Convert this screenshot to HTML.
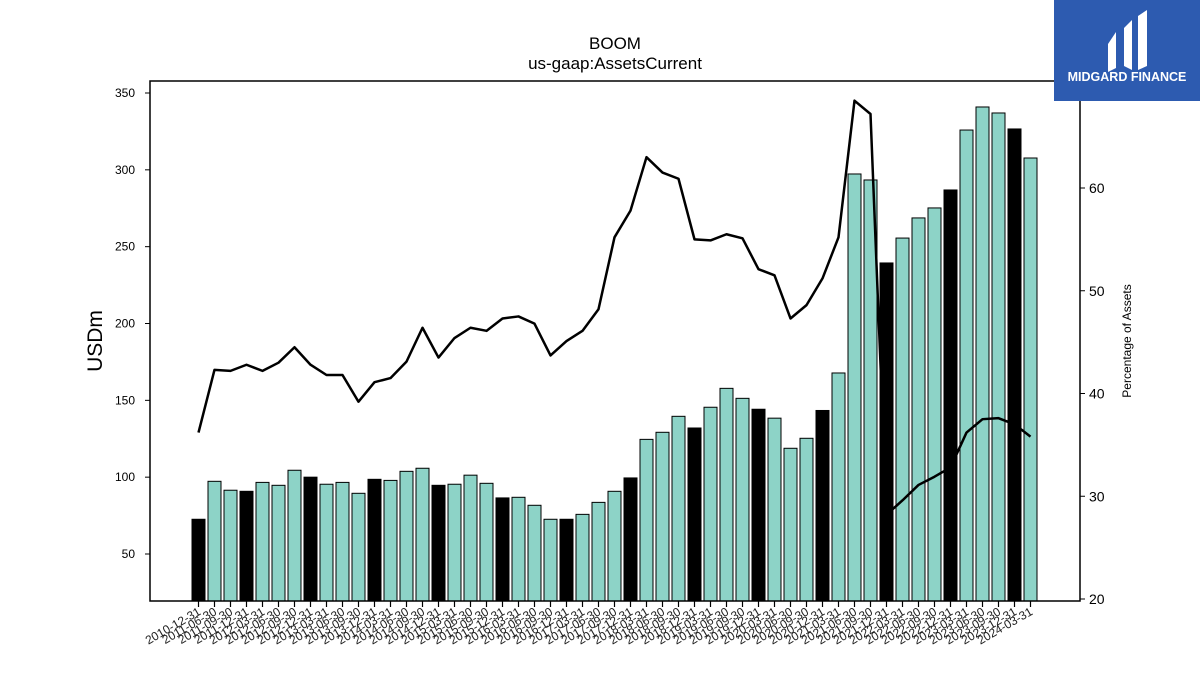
<!DOCTYPE html>
<html><head><meta charset="utf-8">
<style>
body{margin:0;background:#fff;width:1200px;height:675px;overflow:hidden;font-family:"Liberation Sans","DejaVu Sans",sans-serif;}
svg{position:absolute;left:0;top:0}
</style></head>
<body>
<svg id="chart" width="1200" height="675" viewBox="0 0 1200 675">
  <text x="615" y="49" text-anchor="middle" font-size="17">BOOM</text>
  <text x="615" y="69" text-anchor="middle" font-size="17">us-gaap:AssetsCurrent</text>
  <text transform="translate(102,341) rotate(-90)" text-anchor="middle" font-size="21">USDm</text>
  <text transform="translate(1131,341) rotate(-90)" text-anchor="middle" font-size="12">Percentage of Assets</text>
  <g id="bars-teal"></g>
  <g id="line-g"></g>
  <g id="bars-black"></g>
  <g id="axes"></g>
  <g>
    <rect x="1054" y="0" width="146" height="101" fill="#2d5bb0"/>
    <path d="M1108,44 L1116,32 L1116,68 L1108,72 Z" fill="#fff"/>
    <path d="M1124,28 L1132,20 L1132,70 L1124,66 Z" fill="#fff"/>
    <path d="M1138,16 L1147,10 L1147,66 L1138,70 Z" fill="#fff"/>
    <text x="1127" y="81" text-anchor="middle" font-size="12.5" font-weight="bold" fill="#fff">MIDGARD FINANCE</text>
  </g>
</svg>
<script>
const categories = ["2010-12-31","2011-06-30","2011-09-30","2011-12-31","2012-03-31","2012-06-30","2012-09-30","2012-12-31","2013-03-31","2013-06-30","2013-09-30","2013-12-31","2014-03-31","2014-06-30","2014-09-30","2014-12-31","2015-03-31","2015-06-30","2015-09-30","2015-12-31","2016-03-31","2016-06-30","2016-09-30","2016-12-31","2017-03-31","2017-06-30","2017-09-30","2017-12-31","2018-03-31","2018-06-30","2018-09-30","2018-12-31","2019-03-31","2019-06-30","2019-09-30","2019-12-31","2020-03-31","2020-06-30","2020-09-30","2020-12-31","2021-03-31","2021-06-30","2021-09-30","2021-12-31","2022-03-31","2022-06-30","2022-09-30","2022-12-31","2023-03-31","2023-06-30","2023-09-30","2023-12-31","2024-03-31"];
const assetsCurrent = [72.6,97.3,91.5,90.8,96.6,94.7,104.5,100,95.4,96.6,89.5,98.6,97.9,103.8,105.8,94.7,95.4,101.3,96,86.5,86.9,81.7,72.6,72.6,75.8,83.6,90.8,99.5,124.6,129.2,139.6,132,145.5,157.8,151.3,144.2,138.4,118.8,125.3,143.4,167.8,297.3,293.4,239.4,255.6,268.7,275.2,286.9,325.9,340.9,337,326.6,307.7];
const pctOfAssets = [36.2,42.3,42.2,42.8,42.2,43.0,44.5,42.8,41.8,41.8,39.2,41.1,41.5,43.1,46.4,43.5,45.4,46.4,46.1,47.3,47.5,46.8,43.7,45.1,46.1,48.2,55.2,57.8,63.0,61.5,60.9,55.0,54.9,55.5,55.1,52.1,51.5,47.3,48.6,51.2,55.2,68.5,67.2,28.2,29.6,31.1,31.9,32.8,36.2,37.5,37.6,37.0,35.8];
const leftTicks = [50,100,150,200,250,300,350];
const rightTicks = [20,30,40,50,60];

const NS="http://www.w3.org/2000/svg";
const PL=150,PR=1080,PT=81,PB=601;
const yL=v=>554-(v-50)*(461/300);
const yR=v=>599-(v-20)*10.275;
const xB=i=>198.5+16*i;
const BW=13;
function mk(tag,attrs,parent){const e=document.createElementNS(NS,tag);for(const k in attrs)e.setAttribute(k,attrs[k]);parent.appendChild(e);return e;}
const gT=document.getElementById('bars-teal'),gB=document.getElementById('bars-black'),gL=document.getElementById('line-g'),gA=document.getElementById('axes');
categories.forEach((c,i)=>{
  const annual=c.endsWith('12-31');
  const y=yL(assetsCurrent[i]);
  const r=mk('rect',{x:xB(i)-BW/2,y:y,width:BW,height:PB-y,fill:annual?'#000':'#8dd3c7',stroke:'#000','stroke-width':1},annual?gB:gT);
  
  
  const t=mk('line',{x1:xB(i),x2:xB(i),y1:PB,y2:PB+6,stroke:'#000','stroke-width':1.2},gA);
  
  
  const lb=mk('text',{transform:`translate(${xB(i)+3},${PB+13}) rotate(-30)`,'text-anchor':'end','font-size':12,fill:'#222'},gA);
  lb.textContent=c;
  
  
});
const pl=mk('polyline',{points:pctOfAssets.map((v,i)=>xB(i)+','+yR(v)).join(' '),fill:'none',stroke:'#000','stroke-width':2.5,'stroke-linejoin':'round'},gL);


const fr=mk('rect',{x:PL,y:PT,width:PR-PL,height:PB-PT,fill:'none',stroke:'#000','stroke-width':1.5},gA);


leftTicks.forEach(v=>{
  const t=mk('line',{x1:PL-5,x2:PL,y1:yL(v),y2:yL(v),stroke:'#000'},gA);
  
  
  const l=mk('text',{x:PL-15,y:yL(v)+4,'text-anchor':'end','font-size':12},gA);
  l.textContent=v;
  
  
});
rightTicks.forEach(v=>{
  const t=mk('line',{x1:PR,x2:PR+5,y1:yR(v),y2:yR(v),stroke:'#000'},gA);
  
  
  const l=mk('text',{x:PR+9,y:yR(v)+5,'font-size':14},gA);
  l.textContent=v;
  
  
});
</script>
</body></html>
